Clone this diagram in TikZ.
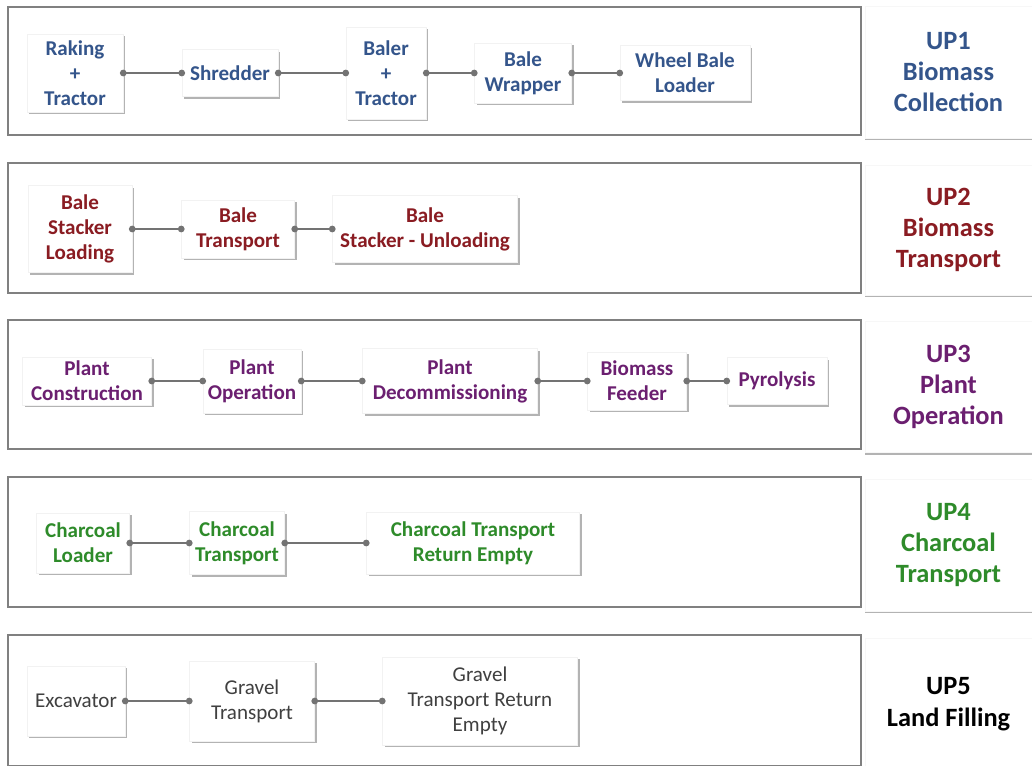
\documentclass[tikz,border=0pt]{standalone}
\usepackage{fontspec}
\setmainfont{Carlito}
\usepackage{xcolor}
\usepackage{tikz}
\usetikzlibrary{arrows.meta,shadows}
\definecolor{upblue}{HTML}{34558B}
\definecolor{upred}{HTML}{8A1C22}
\definecolor{uppurple}{HTML}{6B1F70}
\definecolor{upgreen}{HTML}{2E8B2A}
\definecolor{upgray}{HTML}{404040}
\tikzset{
  task/.style={rectangle, fill=white, draw=black!5, align=center, inner sep=1pt,
    font=\fontsize{15.8}{18.75}\selectfont\bfseries,
    drop shadow={shadow xshift=1.8pt, shadow yshift=-1.8pt, fill=black!50, opacity=.6}},
  plaintask/.style={task, font=\fontsize{15.8}{18.75}\selectfont, text=upgray},
  sz/.style 2 args={minimum width=#1*0.75pt, minimum height=#2*0.75pt},
  frame/.style={draw=black!50, line width=1.1pt},
  tag/.style={rectangle, fill=white, draw=black!3, align=center,
    font=\fontsize{19.8}{23.5}\selectfont\bfseries,
    drop shadow={shadow xshift=0pt, shadow yshift=-1.8pt, fill=black!50, opacity=.6}},
  link/.style={draw=black!55, line width=1pt,
    {Circle[length=5pt]}-{Circle[length=5pt]}, shorten <=-2.5pt, shorten >=-2.5pt},
}
\begin{document}
\begin{tikzpicture}[x=0.75pt, y=-0.75pt]
  \useasboundingbox (0,0) rectangle (1032,765);
  % frames of the five unit processes
  \draw[frame] (8,7) rectangle (861,135);
  \draw[frame] (8,163) rectangle (861,293);
  \draw[frame] (8,320) rectangle (861,449);
  \draw[frame] (8,477) rectangle (861,607);
  \draw[frame] (8,635) rectangle (861,766);
  % UP1 biomass collection
  \node[task, sz={96}{78}, text=upblue] (rake) at (75,73) {Raking\\+\\Tractor};
  \node[task, sz={96}{47}, text=upblue] (shred) at (230,73) {Shredder};
  \node[task, sz={80}{92}, text=upblue] (baler) at (386,73) {Baler\\+\\Tractor};
  \node[task, sz={97}{60}, text=upblue] (wrap) at (523,73) {Bale\\Wrapper};
  \node[task, sz={130}{55}, text=upblue] (wheel) at (685,73) {Wheel Bale\\Loader};
  \node[tag, sz={167}{132}, text=upblue] (up1) at (948.5,72) {UP1\\Biomass\\Collection};
  \draw[link] (rake.east) -- (shred.west);
  \draw[link] (shred.east) -- (baler.west);
  \draw[link] (baler.east) -- (wrap.west);
  \draw[link] (wrap.east) -- (wheel.west);
  % UP2 biomass transport
  \node[task, sz={104}{87}, text=upred] (stackld) at (80,229) {Bale\\Stacker\\Loading};
  \node[task, sz={113}{58}, text=upred] (baletr) at (238,229) {Bale\\Transport};
  \node[task, sz={185}{67}, text=upred] (stackul) at (425,229) {Bale\\Stacker - Unloading};
  \node[tag, sz={167}{130}, text=upred] (up2) at (948.5,230) {UP2\\Biomass\\Transport};
  \draw[link] (stackld.east) -- (baletr.west);
  \draw[link] (baletr.east) -- (stackul.west);
  % UP3 plant operation
  \node[task, sz={129}{48}, text=uppurple] (constr) at (87,381) {Plant\\Construction};
  \node[task, sz={98}{64}, text=uppurple] (oper) at (252,381) {Plant\\Operation};
  \node[task, sz={175}{65}, text=uppurple] (decom) at (450,381) {Plant\\Decommissioning};
  \node[task, sz={99}{58}, text=uppurple] (feeder) at (637,381) {Biomass\\Feeder};
  \node[task, sz={100}{47}, text=uppurple] (pyro) at (777,381) {Pyrolysis};
  \node[tag, sz={167}{131}, text=uppurple] (up3) at (948.5,387) {UP3\\Plant\\Operation};
  \draw[link] (constr.east) -- (oper.west);
  \draw[link] (oper.east) -- (decom.west);
  \draw[link] (decom.east) -- (feeder.west);
  \draw[link] (feeder.east) -- (pyro.west);
  % UP4 charcoal transport
  \node[task, sz={93}{60}, text=upgreen] (cload) at (83,543) {Charcoal\\Loader};
  \node[task, sz={95}{63}, text=upgreen] (ctrans) at (237,543) {Charcoal\\Transport};
  \node[task, sz={213}{62}, text=upgreen] (cempty) at (473,543) {Charcoal Transport\\Return Empty};
  \node[tag, sz={167}{132}, text=upgreen] (up4) at (948.5,545) {UP4\\Charcoal\\Transport};
  \draw[link] (cload.east) -- (ctrans.west);
  \draw[link] (ctrans.east) -- (cempty.west);
  % UP5 land filling
  \node[plaintask, sz={98}{70}] (excav) at (76,701) {Excavator};
  \node[plaintask, sz={125}{80}] (gtrans) at (252,701) {Gravel\\Transport};
  \node[plaintask, sz={195}{88}] (gempty) at (480,701) {Gravel\\Transport Return\\Empty};
  \node[tag, sz={167}{132}, text=black] (up5) at (948.5,704) {UP5\\Land Filling};
  \draw[link] (excav.east) -- (gtrans.west);
  \draw[link] (gtrans.east) -- (gempty.west);
\end{tikzpicture}
\end{document}
